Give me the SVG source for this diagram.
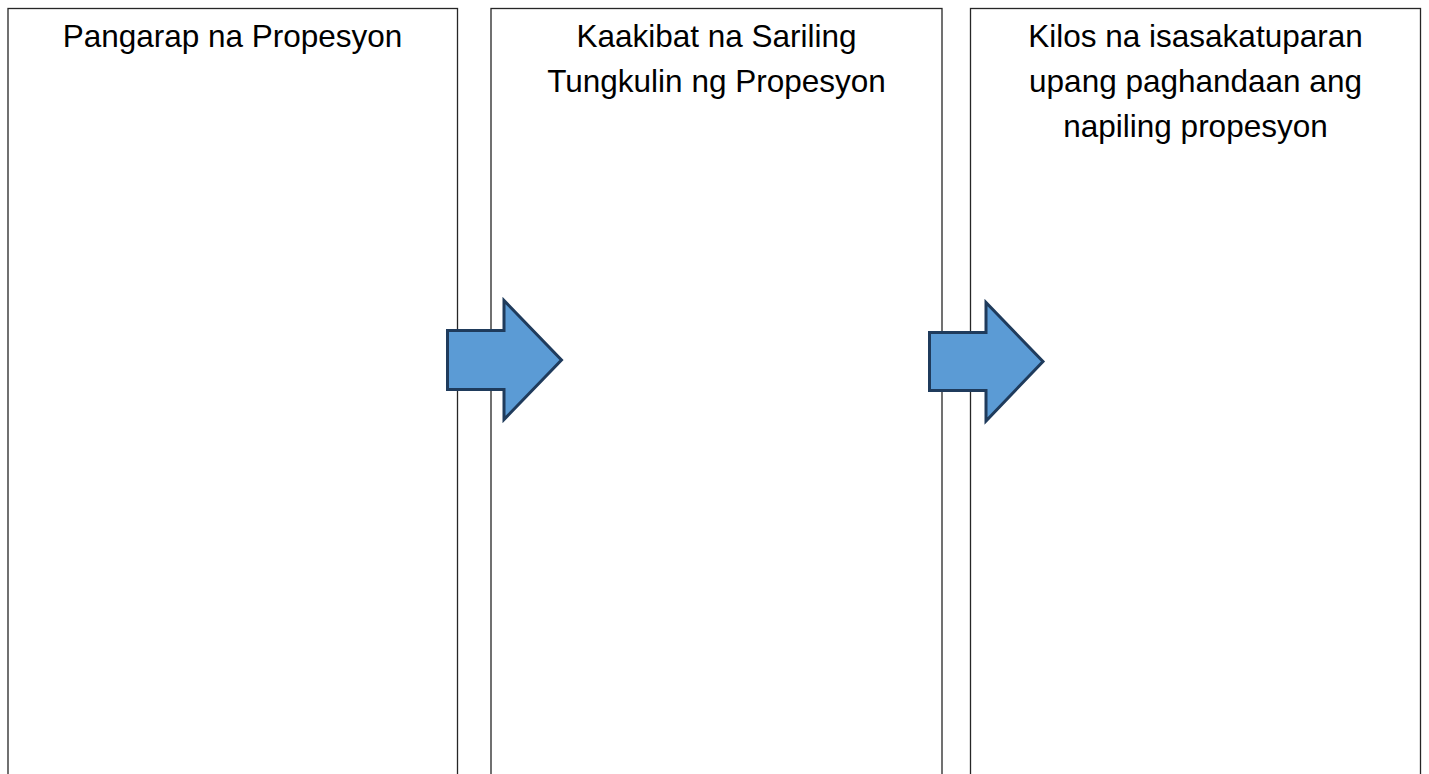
<svg xmlns="http://www.w3.org/2000/svg" width="1429" height="774" viewBox="0 0 1429 774">
<style>
.box{fill:#ffffff;stroke:#262626;stroke-width:1.3}
.lbl{font-family:"Liberation Sans",Arial,sans-serif;font-size:31.5px;fill:#000000;text-anchor:middle}
.arr{fill:#5B9BD5;stroke:#1F3B5C;stroke-width:3;stroke-linejoin:miter}
</style>
<rect x="0" y="0" width="1429" height="774" fill="#ffffff"/>
<g id="node1">
<rect class="box" x="8" y="8.5" width="449.5" height="800"/>
<text class="lbl" x="232.5" y="47">Pangarap na Propesyon</text>
</g>
<g id="node2">
<rect class="box" x="491" y="8.5" width="451" height="800"/>
<text class="lbl" x="716.5" y="47">Kaakibat na Sariling</text>
<text class="lbl" x="716.5" y="92">Tungkulin ng Propesyon</text>
</g>
<g id="node3">
<rect class="box" x="970.5" y="8.5" width="450" height="800"/>
<text class="lbl" x="1195.5" y="47">Kilos na isasakatuparan</text>
<text class="lbl" x="1195.5" y="92">upang paghandaan ang</text>
<text class="lbl" x="1195.5" y="137">napiling propesyon</text>
</g>
<g id="connectors">
<polygon class="arr" points="447.5,330.5 504,330.5 504,300.5 561.5,360 504,419.5 504,389.5 447.5,389.5"/>
<polygon class="arr" points="929.5,332.5 986,332.5 986,302.5 1043,361.5 986,421 986,390.5 929.5,390.5"/>
</g>
</svg>
